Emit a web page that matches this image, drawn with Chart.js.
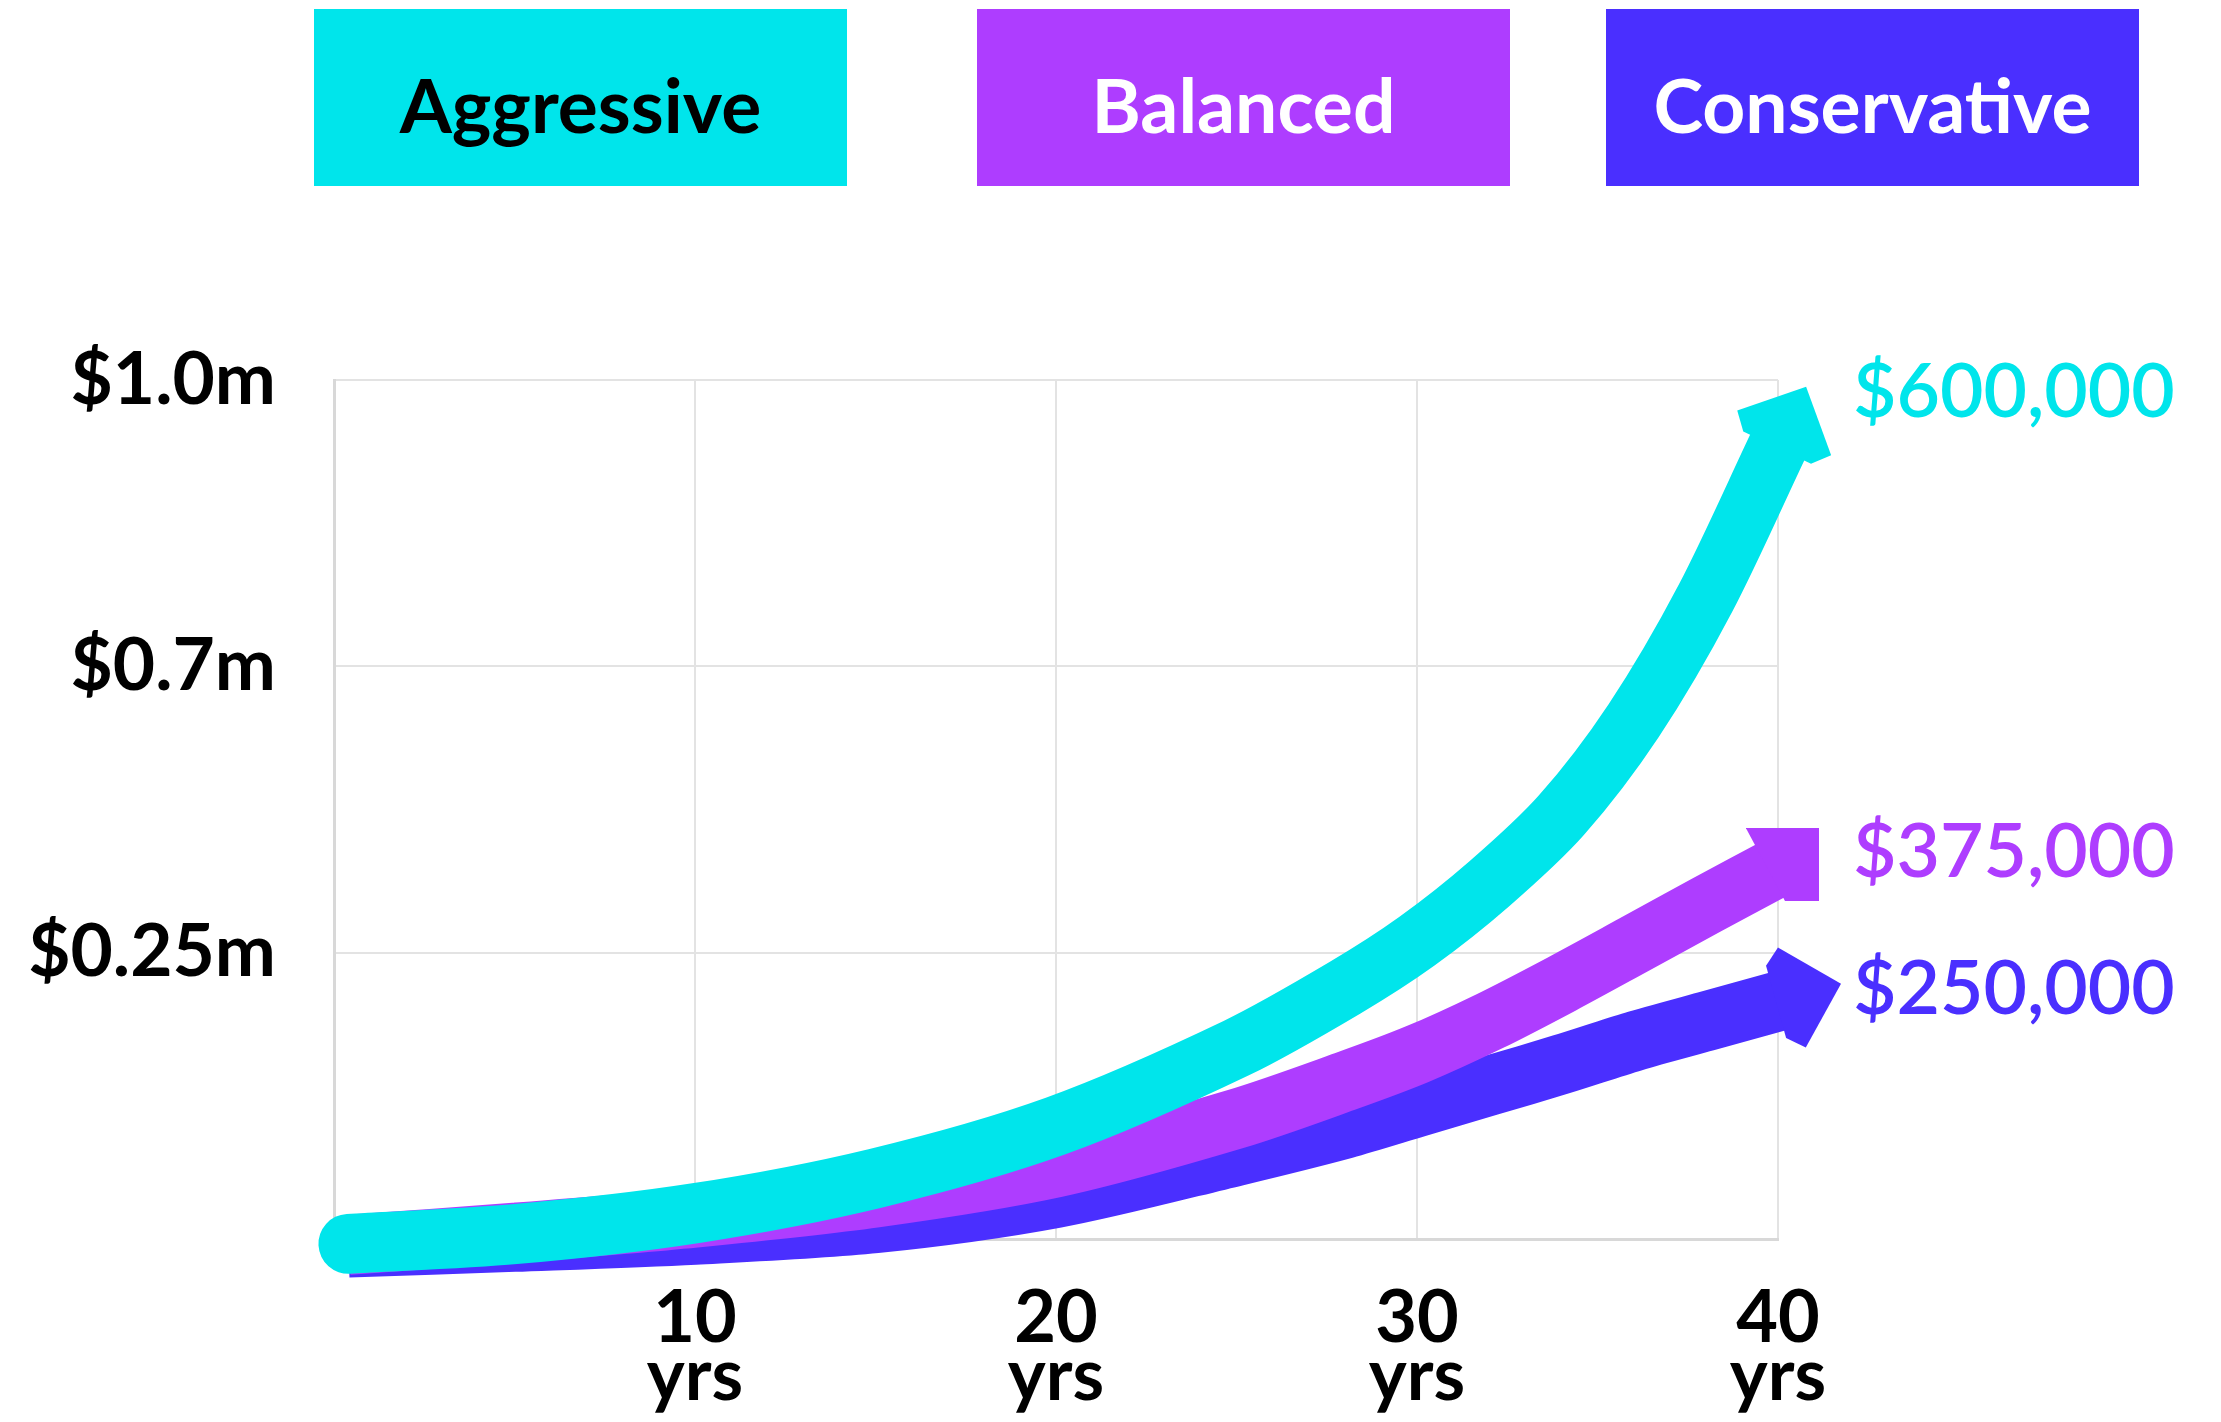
<!DOCTYPE html>
<html>
<head>
<meta charset="utf-8">
<title>Portfolio growth</title>
<script src="https://cdn.jsdelivr.net/npm/chart.js@4/dist/chart.umd.min.js"></script>
<style>
  html, body { margin: 0; padding: 0; background: #ffffff; }
  #c { display: block; }
</style>
</head>
<body>
<canvas id="c" width="2221" height="1422"></canvas>
<script>
// Years on the horizontal axis (shared by all three strategies)
const years = [0.4, 5, 10, 15, 20, 25, 28, 30, 32, 34, 36, 38, 40];

// Growth of each strategy, in grid-band units (0 = start, 1 = $0.25m, 2 = $0.7m, 3 = $1.0m)
const aggressive   = [-0.017, 0.017, 0.09, 0.212, 0.395, 0.667, 0.877, 1.04, 1.24, 1.48, 1.81, 2.24, 2.77];
const balanced     = [-0.02, 0.022, 0.075, 0.145, 0.25, 0.42, 0.55, 0.645, 0.76, 0.89, 1.027, 1.165, 1.30];
const conservative = [-0.03, -0.01, 0.015, 0.055, 0.143, 0.29, 0.385, 0.46, 0.535, 0.61, 0.69, 0.76, 0.83];

const seriesNames = ['Aggressive', 'Balanced', 'Conservative'];
const endLabels   = ['$600,000', '$375,000', '$250,000'];
const yTickLabels = ['', '$0.25m', '$0.7m', '$1.0m'];
const xTickLabels = ['', '10 yrs', '20 yrs', '30 yrs', '40 yrs'];

const colors     = ['#00E5EB', '#AE3DFF', '#4A2FFF'];
const legendInk  = ['#000000', '#ffffff', '#ffffff'];
const FONT = 'Lato, "Open Sans", sans-serif';
const LINE_W = 60;

// Legend box geometry (left edges, shared width/height)
const legendBoxLeft = [314, 977, 1606];
const legendBox = { top: 9, width: 533, height: 177 };

// Optional square crop of a series' arrow head (size, offset along the shaft, head widening)
const headCrop = [null, { size: 73, shift: 5, widen: 1.35, back: 10 }, null];

function toPoints(vals) {
  return vals.map((v, i) => ({ x: years[i], y: v }));
}

function drawHead(ctx, p, d, color, crop) {
  const n = { x: -d.y, y: d.x };
  const w = crop ? crop.widen : 1;
  const b = crop ? crop.back : 2;
  const shape = [[-b, 37.5 * w], [14.4, 52 * w], [65.4, 0], [14.4, -52 * w], [-b, -37.5 * w]];
  const pts = shape.map(([t, q]) => [p.x + d.x * t + n.x * q, p.y + d.y * t + n.y * q]);
  let labelY = pts[2][1] + 6;
  ctx.save();
  if (crop) {
    const cx = p.x + d.x * crop.shift, cy = p.y + d.y * crop.shift;
    const h = crop.size / 2;
    ctx.beginPath();
    ctx.rect(cx - h, cy - h, 2 * h, 2 * h);
    ctx.clip();
    labelY = cy - 12;
  }
  ctx.beginPath();
  pts.forEach(([x, y], k) => (k ? ctx.lineTo(x, y) : ctx.moveTo(x, y)));
  ctx.closePath();
  ctx.fillStyle = color;
  ctx.fill();
  ctx.restore();
  return labelY;
}

const decorations = {
  id: 'decorations',
  afterDatasetDraw(chart, args) {
    const ctx = chart.ctx;
    const i = args.index;
    const pts = args.meta.data;
    const last = pts[pts.length - 1];
    const prev = pts[pts.length - 2];
    const hasCp = last.cp1x !== undefined && (last.cp1x !== last.x || last.cp1y !== last.y);
    const bx = hasCp ? last.cp1x : prev.x;
    const by = hasCp ? last.cp1y : prev.y;
    const dx = last.x - bx, dy = last.y - by;
    const len = Math.hypot(dx, dy) || 1;
    const d = { x: dx / len, y: dy / len };
    const labelY = drawHead(ctx, { x: last.x, y: last.y }, d, colors[i], headCrop[i]);

    ctx.save();
    ctx.font = '600 75px ' + FONT;
    ctx.fillStyle = colors[i];
    ctx.textAlign = 'left';
    ctx.textBaseline = 'middle';
    ctx.fillText(endLabels[i], chart.chartArea.right + 75, labelY);
    ctx.restore();
  },
  afterDraw(chart) {
    const ctx = chart.ctx;
    ctx.save();
    seriesNames.forEach((name, i) => {
      const x = legendBoxLeft[i];
      ctx.fillStyle = colors[i];
      ctx.fillRect(x, legendBox.top, legendBox.width, legendBox.height);
      ctx.fillStyle = legendInk[i];
      ctx.font = 'bold 75px ' + FONT;
      ctx.textAlign = 'center';
      ctx.textBaseline = 'alphabetic';
      ctx.fillText(name, x + legendBox.width / 2, 133);
    });
    ctx.restore();
  }
};

const datasets = [aggressive, balanced, conservative].map((vals, i) => ({
  label: seriesNames[i],
  data: toPoints(vals),
  borderColor: colors[i],
  backgroundColor: colors[i],
  borderWidth: LINE_W,
  borderCapStyle: i === 0 ? 'round' : 'butt',
  borderJoinStyle: 'round',
  tension: 0.3,
  pointRadius: 0,
  pointHoverRadius: 0,
  fill: false,
  clip: false
}));

new Chart(document.getElementById('c'), {
  type: 'line',
  data: { datasets },
  options: {
    responsive: false,
    animation: false,
    devicePixelRatio: 1,
    layout: { padding: { top: 380, right: 443, left: 0, bottom: 0 } },
    plugins: { legend: { display: false }, tooltip: { enabled: false } },
    scales: {
      x: {
        type: 'linear',
        min: 0, max: 40,
        afterFit(scale) { scale.height = 183; },
        ticks: {
          stepSize: 10,
          padding: 51,
          color: '#000000',
          font: { family: FONT, size: 72, weight: 'bold', lineHeight: 0.8 },
          maxRotation: 0,
          callback: (v) => {
            const t = xTickLabels[Math.round(v / 10)] || '';
            return t ? t.split(' ') : '';
          }
        },
        grid: { color: '#e3e3e3', lineWidth: 2, drawTicks: false },
        border: { color: '#d8d8d8', width: 3 }
      },
      y: {
        type: 'linear',
        min: 0, max: 3,
        afterFit(scale) { scale.width = 334; },
        ticks: {
          stepSize: 1,
          padding: 58,
          color: '#000000',
          font: { family: FONT, size: 73, weight: 'bold' },
          callback: (v) => yTickLabels[Math.round(v)] || ''
        },
        grid: { color: '#e3e3e3', lineWidth: 2, drawTicks: false },
        border: { color: '#d8d8d8', width: 3 }
      }
    }
  },
  plugins: [decorations]
});
</script>
</body>
</html>
